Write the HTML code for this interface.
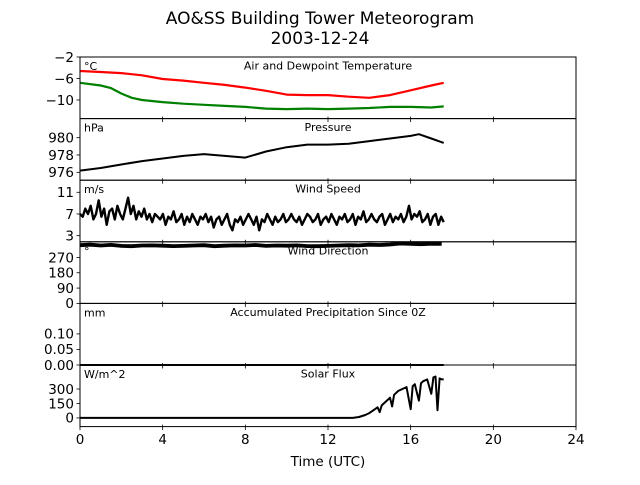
<!DOCTYPE html>
<html><head><meta charset="utf-8"><style>
body{margin:0;background:#fff}
svg text{font-family:"DejaVu Sans","Liberation Sans",sans-serif;fill:#000}
</style></head><body>
<svg id="fig" width="640" height="480" viewBox="0 0 640 480" xmlns="http://www.w3.org/2000/svg">
<text x="320" y="24" font-size="17" text-anchor="middle">AO&amp;SS Building Tower Meteorogram</text>
<text x="320" y="44" font-size="17" text-anchor="middle">2003-12-24</text>
<text x="328" y="466" font-size="13.5" text-anchor="middle">Time (UTC)</text>
<g id="plots"></g>
</svg>
<script>
const xTicks=[0,4,8,12,16,20,24];
const airT=[0,1,2,3,4,5,6,7,8,9,10,11,12,13,14,15,16,17,17.6];
const airV=[-4.6,-4.8,-5.0,-5.4,-6.1,-6.4,-6.8,-7.2,-7.7,-8.3,-9.0,-9.1,-9.1,-9.4,-9.6,-9.1,-8.2,-7.3,-6.8];
const dewT=[0,1,1.5,2,2.5,3,4,5,6,7,8,9,10,11,12,13,14,15,16,17,17.6];
const dewV=[-6.8,-7.3,-7.8,-8.8,-9.6,-10,-10.4,-10.7,-10.9,-11.1,-11.3,-11.6,-11.7,-11.6,-11.7,-11.6,-11.5,-11.3,-11.3,-11.4,-11.2];
const presT=[0,1,2,3,4,5,6,7,8,9,10,11,12,13,14,15,16,16.4,17,17.6];
const presV=[976.2,976.5,976.9,977.3,977.6,977.9,978.1,977.9,977.7,978.4,978.9,979.2,979.2,979.3,979.6,979.9,980.2,980.4,979.9,979.4];
const wsEnd=17.6;
const wsV=[7,6.5,8,7,8.5,6,7,9.5,6.5,8,5,7.5,8,6,8.5,7,6,8,10,7,8.5,
6,7.5,6.5,8,6,7,5.5,7,6.5,6,7,5,6.5,6,7.5,5.5,6,7,5,
6.5,5.5,7,6,5,6.5,6,7,5.5,6.5,4.5,6,6.5,5,6,7,5,4,6,
5.5,6.5,5,6,7,6,5,6.5,4,6,5.5,7,6,5,6.5,5.5,6,7,5.5,
6,7,6,5.5,6.5,5,6,7,6.5,5.5,6,7,5,6,6.5,5.5,7,6,5,
6.5,6,7,5.5,6,7,5,6.5,6,7.5,5.5,6,7,6,5.5,6.5,7,5,6,
7,5.5,6.5,6,7,5.5,6.5,8.5,6,7,6.5,7.5,5.5,6,7,5,6.5,7,5,6.5,5.5];
const wdV=[342,345,340,344,338,336,340,341,339,337,338,340,342,336,339,341,340,343,338,340,339,341,337,336,338,340,342,341,345,343,346,352,350,348,351,350];
const prT=[0,17.6];
const prV=[0,0];
const solT=[0,13.2,13.5,13.8,14,14.2,14.4,14.5,14.6,14.8,15,15.1,15.2,15.4,15.6,15.8,16,16.1,16.2,16.4,16.5,16.6,16.8,17,17.1,17.2,17.3,17.4,17.5,17.6];
const solV=[0,0,10,30,50,80,110,60,130,170,210,120,240,280,300,320,90,330,350,180,360,380,400,250,420,430,80,410,400,400];

const NS='http://www.w3.org/2000/svg';
const plots=document.getElementById('plots');
const X0=80,X1=576;
const xs=t=>X0+(t/24)*(X1-X0);
function mk(tag,attrs,parent){const e=document.createElementNS(NS,tag);for(const k in attrs)e.setAttribute(k,attrs[k]);(parent||plots).appendChild(e);return e;}
const panels=[
 {name:'temperature',top:57,bot:118.6,min:-13.47,max:-2,ticks:[-2,-6,-10],fmt:v=>v<0?'\u2212'+Math.abs(v):v,unit:'°C',title:'Air and Dewpoint Temperature'},
 {name:'pressure',top:118.6,bot:180.2,min:975.09,max:982.2,ticks:[976,978,980],fmt:v=>v,unit:'hPa',title:'Pressure'},
 {name:'wind-speed',top:180.2,bot:241.8,min:1.87,max:13.23,ticks:[3,7,11],fmt:v=>v,unit:'m/s',title:'Wind Speed'},
 {name:'wind-direction',top:241.8,bot:303.4,min:0,max:362,ticks:[0,90,180,270],fmt:v=>v,unit:'°',title:'Wind Direction'},
 {name:'precipitation',top:303.4,bot:365,min:0,max:0.198,ticks:[0,0.05,0.10],fmt:v=>v.toFixed(2),unit:'mm',title:'Accumulated Precipitation Since 0Z'},
 {name:'solar-flux',top:365,bot:426.6,min:-90,max:549,ticks:[0,150,300],fmt:v=>v,unit:'W/m^2',title:'Solar Flux'}
];
function series(p,name,T,V,color,w){
 const ys=v=>p.bot-(v-p.min)/(p.max-p.min)*(p.bot-p.top);
 const d=T.map((t,i)=>(i?'L':'M')+xs(t).toFixed(1)+','+ys(V[i]).toFixed(1)).join(' ');
 const e=mk('path',{d:d,fill:'none',stroke:color,'stroke-width':w||2,'stroke-linejoin':'round'});
 
 
}
panels.forEach((p,pi)=>{
 const g=mk('g',{});
 
 
 const ys=v=>p.bot-(v-p.min)/(p.max-p.min)*(p.bot-p.top);
 p.ticks.forEach(v=>{
  const y=ys(v);
  mk('line',{x1:X0-3.5,x2:X0,y1:y,y2:y,stroke:'#000','stroke-width':0.8},g);
  const t=mk('text',{x:X0-6,y:y+4.8,'font-size':13.5,'text-anchor':'end'},g);
  t.textContent=p.fmt(v);
  
  
 });
 xTicks.forEach(v=>{
  mk('line',{x1:xs(v),x2:xs(v),y1:p.bot-2,y2:p.bot+3.5,stroke:'#000','stroke-width':0.8},g);
 });
 const u=mk('text',{x:84,y:p.top+13,'font-size':11},g);
 u.textContent=p.unit;
 
 
 const ti=mk('text',{x:328,y:p.top+12.5,'font-size':11,'text-anchor':'middle'},g);
 ti.textContent=p.title;
 
 
});
series(panels[0],'air-temperature-line',airT,airV,'#ff0000',2.2);
series(panels[0],'dewpoint-line',dewT,dewV,'#008000',2.2);
series(panels[1],'pressure-line',presT,presV,'#000',2);
series(panels[2],'wind-speed-line',wsV.map((v,i)=>i*wsEnd/(wsV.length-1)),wsV,'#000',2.4);
series(panels[3],'wind-direction-line',wdV.map((v,i)=>i*0.5),wdV,'#000',3.8);
series(panels[4],'precipitation-line',prT,prV,'#000',2);
series(panels[5],'solar-flux-line',solT,solV,'#000',2);
panels.forEach(p=>{
 const r=mk('rect',{x:X0,y:p.top,width:X1-X0,height:p.bot-p.top,fill:'none',stroke:'#000','stroke-width':1});
 
 
});
xTicks.forEach(v=>{
 const t=mk('text',{x:xs(v),y:444,'font-size':13.5,'text-anchor':'middle'});
 t.textContent=v;
 
 
});
</script>
</body></html>
